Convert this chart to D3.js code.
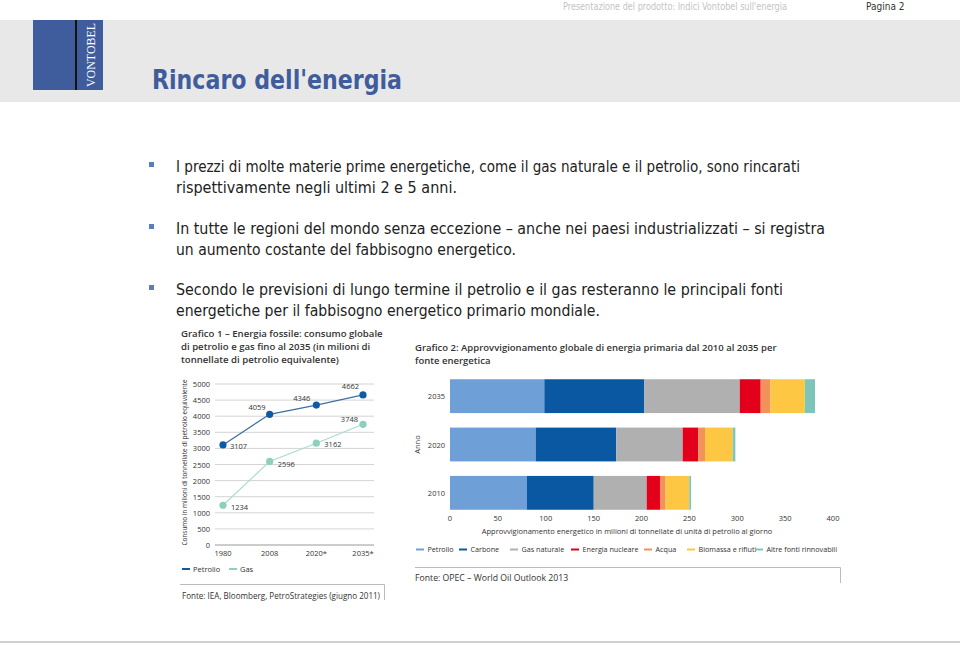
<!DOCTYPE html>
<html>
<head>
<meta charset="utf-8">
<script src="https://cdn.jsdelivr.net/npm/d3@7"></script>
<style>
  body { margin: 0; background: #fff; }
  svg { display: block; }
  .page { font-family: "DejaVu Sans Condensed", "DejaVu Sans", sans-serif; }
  .ch { font-family: "Open Sans", "Noto Sans", sans-serif; fill: #333; }
</style>
</head>
<body>
<svg width="960" height="646"></svg>
<script>
// --- data ---
const bullets = [
  ["I prezzi di molte materie prime energetiche, come il gas naturale e il petrolio, sono rincarati",
   "rispettivamente negli ultimi 2 e 5 anni."],
  ["In tutte le regioni del mondo senza eccezione \u2013 anche nei paesi industrializzati \u2013 si registra",
   "un aumento costante del fabbisogno energetico."],
  ["Secondo le previsioni di lungo termine il petrolio e il gas resteranno le principali fonti",
   "energetiche per il fabbisogno energetico primario mondiale."]
];

const years1 = ["1980", "2008", "2020*", "2035*"];
const petrolio = [3107, 4059, 4346, 4662];
const gas = [1234, 2596, 3162, 3748];
const yTicks1 = [0, 500, 1000, 1500, 2000, 2500, 3000, 3500, 4000, 4500, 5000];

const years2 = ["2035", "2020", "2010"];
const fonti = ["Petrolio", "Carbone", "Gas naturale", "Energia nucleare", "Acqua", "Biomassa e rifiuti", "Altre fonti rinnovabili"];
const supply2010 = [80.2, 69.9, 55.3, 13.9, 5.9, 24.7, 1.9];
const supply2020 = [89.5, 84.2, 69.3, 16.3, 7.0, 28.9, 2.8];
const supply2035 = [98.5, 104.5, 99.6, 21.9, 10.1, 36.0, 10.6];
const xTicks2 = [0, 50, 100, 150, 200, 250, 300, 350, 400];

const fontiColors = ["#6e9fd6", "#0a58a2", "#b0b0b0", "#e3001b", "#f3915a", "#fec743", "#7dc5b8"];

const svg = d3.select("svg");

// --- page header ---
svg.append("rect").attr("x", 0).attr("y", 20).attr("width", 960).attr("height", 82).attr("fill", "#e8e8e8");
svg.append("text").attr("class", "page").attr("x", 563).attr("y", 10)
  .attr("font-size", 10).attr("fill", "#c4c4c4")
  .attr("textLength", 224).attr("lengthAdjust", "spacingAndGlyphs")
  .text("Presentazione del prodotto: Indici Vontobel sull'energia");
svg.append("text").attr("class", "page").attr("x", 866).attr("y", 10)
  .attr("font-size", 10).attr("fill", "#333").text("Pagina 2");

// logo
svg.append("rect").attr("x", 33).attr("y", 20).attr("width", 70).attr("height", 70).attr("fill", "#3f5d9c");
svg.append("rect").attr("x", 75).attr("y", 20).attr("width", 2).attr("height", 70).attr("fill", "#111");
svg.append("text")
  .attr("transform", "translate(94.5,55) rotate(-90)")
  .attr("text-anchor", "middle")
  .attr("font-family", "Liberation Serif, DejaVu Serif, serif")
  .attr("font-size", 12.5).attr("fill", "#fff")
  .attr("textLength", 64).attr("lengthAdjust", "spacingAndGlyphs")
  .text("VONTOBEL");

svg.append("text").attr("class", "page").attr("x", 152).attr("y", 89)
  .attr("font-size", 26).attr("fill", "#3f5d9c").attr("font-weight", "bold")
  .attr("textLength", 250).attr("lengthAdjust", "spacingAndGlyphs")
  .text("Rincaro dell'energia");

// --- bullets ---
const bulletTop = [172, 234, 295];
const lineLen = [[624, 281], [649, 340], [607, 424]];
bullets.forEach((lines, i) => {
  svg.append("rect").attr("x", 149).attr("y", bulletTop[i] - 10).attr("width", 5).attr("height", 5).attr("fill", "#5b7db8");
  lines.forEach((t, j) => {
    svg.append("text").attr("class", "page")
      .attr("x", 176).attr("y", bulletTop[i] + j * 20.5)
      .attr("font-size", 15).attr("fill", "#222")
      .attr("textLength", lineLen[i][j]).attr("lengthAdjust", "spacingAndGlyphs")
      .text(t);
  });
});

// --- chart 1 ---
const t1 = ["Grafico 1 \u2013 Energia fossile: consumo globale",
            "di petrolio e gas fino al 2035 (in milioni di",
            "tonnellate di petrolio equivalente)"];
t1.forEach((t, i) => {
  svg.append("text").attr("class", "ch").attr("x", 181).attr("y", 337 + i * 13)
    .attr("font-size", 9.6).attr("font-weight", 600).attr("fill", "#222").text(t);
});

const x1 = d3.scalePoint().domain(years1).range([223, 363]);
const y1 = d3.scaleLinear().domain([0, 5000]).range([545, 384]);

const g1 = svg.append("g");
g1.selectAll("line.grid").data(yTicks1).enter().append("line")
  .attr("x1", 215).attr("x2", 374)
  .attr("y1", d => y1(d)).attr("y2", d => y1(d))
  .attr("stroke", d => d === 0 ? "#999" : "#d4d4d4").attr("stroke-width", 1);
g1.selectAll("text.yt").data(yTicks1).enter().append("text").attr("class", "ch")
  .attr("x", 210).attr("y", d => y1(d) + 3).attr("text-anchor", "end")
  .attr("font-size", 7.5).text(d => d);
g1.selectAll("text.xt").data(years1).enter().append("text").attr("class", "ch")
  .attr("x", d => x1(d)).attr("y", 556).attr("text-anchor", "middle")
  .attr("font-size", 7.5).text(d => d);
g1.append("text").attr("class", "ch")
  .attr("transform", `translate(187,${(380 + 545) / 2}) rotate(-90)`)
  .attr("text-anchor", "middle").attr("font-size", 7)
  .attr("textLength", 166).attr("lengthAdjust", "spacingAndGlyphs")
  .text("Consumo in milioni di tonnellate di petrolio equivalente");

const line1 = d3.line().x((d, i) => x1(years1[i])).y(d => y1(d));
const series1 = [
  {name: "Petrolio", values: petrolio, dot: "#0f5aa5", line: "#3f6f9f",
   lab: [[7, 4, "start"], [-4, -4, "end"], [-6, -4, "end"], [-4, -6, "end"]]},
  {name: "Gas", values: gas, dot: "#8fcfbd", line: "#a9dccc",
   lab: [[8, 5, "start"], [8, 6, "start"], [8, 4, "start"], [-5, -2, "end"]]}
];
series1.forEach(s => {
  g1.append("path").attr("d", line1(s.values)).attr("fill", "none")
    .attr("stroke", s.line).attr("stroke-width", 1.2);
  g1.selectAll(null).data(s.values).enter().append("circle")
    .attr("cx", (d, i) => x1(years1[i])).attr("cy", d => y1(d)).attr("r", 3.6)
    .attr("fill", s.dot);
  g1.selectAll(null).data(s.values).enter().append("text").attr("class", "ch")
    .attr("x", (d, i) => x1(years1[i]) + s.lab[i][0])
    .attr("y", (d, i) => y1(d) + s.lab[i][1])
    .attr("text-anchor", (d, i) => s.lab[i][2])
    .attr("font-size", 7.5).attr("fill", "#222").text(d => d);
});

// legend 1
series1.forEach((s, i) => {
  const lx = [182, 229][i];
  svg.append("line").attr("x1", lx).attr("x2", lx + 8).attr("y1", 569).attr("y2", 569)
    .attr("stroke", s.dot).attr("stroke-width", 2);
  svg.append("text").attr("class", "ch").attr("x", lx + 11).attr("y", 571.5)
    .attr("font-size", 7.5).text(s.name);
});
svg.append("path").attr("d", "M180,584.5H384.5V600").attr("fill", "none").attr("stroke", "#bbb");
svg.append("text").attr("class", "ch").attr("x", 182).attr("y", 599)
  .attr("font-size", 8.3).attr("textLength", 198).attr("lengthAdjust", "spacingAndGlyphs")
  .text("Fonte: IEA, Bloomberg, PetroStrategies (giugno 2011)");

// --- chart 2 ---
const t2 = ["Grafico 2: Approvvigionamento globale di energia primaria dal 2010 al 2035 per",
            "fonte energetica"];
t2.forEach((t, i) => {
  svg.append("text").attr("class", "ch").attr("x", 415).attr("y", 351 + i * 12.5)
    .attr("font-size", 9.5).attr("font-weight", 600).attr("fill", "#222").text(t);
});

const rows = [supply2035, supply2020, supply2010].map((v, i) => {
  const r = {anno: years2[i]};
  fonti.forEach((f, j) => r[f] = v[j]);
  return r;
});
const stack = d3.stack().keys(fonti)(rows);

const x2 = d3.scaleLinear().domain([0, 400]).range([450, 833]);
const y2 = d3.scaleBand().domain(years2).range([372, 517]).paddingInner(0.3).paddingOuter(0.15);
const color2 = d3.scaleOrdinal().domain(fonti).range(fontiColors);

const g2 = svg.append("g");
g2.selectAll("g.layer").data(stack).enter().append("g")
  .attr("fill", d => color2(d.key))
  .selectAll("rect").data(d => d).enter().append("rect")
  .attr("x", d => x2(d[0])).attr("width", d => x2(d[1]) - x2(d[0]))
  .attr("y", d => y2(d.data.anno)).attr("height", y2.bandwidth());

g2.selectAll("text.xt").data(xTicks2).enter().append("text").attr("class", "ch")
  .attr("x", d => x2(d)).attr("y", 521).attr("text-anchor", "middle")
  .attr("font-size", 7.5).text(d => d);
g2.selectAll("text.yt").data(years2).enter().append("text").attr("class", "ch")
  .attr("x", 445).attr("y", d => y2(d) + y2.bandwidth() / 2 + 3).attr("text-anchor", "end")
  .attr("font-size", 7.5).text(d => d);
g2.append("text").attr("class", "ch")
  .attr("transform", `translate(420,${y2("2020") + y2.bandwidth() / 2}) rotate(-90)`)
  .attr("text-anchor", "middle").attr("font-size", 7.5).text("Anno");
g2.append("text").attr("class", "ch").attr("x", 627).attr("y", 534)
  .attr("text-anchor", "middle").attr("font-size", 7.5)
  .text("Approvvigionamento energetico in milioni di tonnellate di unit\u00e0 di petrolio al giorno");

// legend 2
const legX = [416, 459, 510, 571, 644, 687, 755];
fonti.forEach((f, i) => {
  svg.append("line").attr("x1", legX[i]).attr("x2", legX[i] + 8).attr("y1", 549.5).attr("y2", 549.5)
    .attr("stroke", color2(f)).attr("stroke-width", 2);
  svg.append("text").attr("class", "ch").attr("x", legX[i] + 11.5).attr("y", 552)
    .attr("font-size", 7.2).text(f);
});
svg.append("path").attr("d", "M415,567.5H840.5V583").attr("fill", "none").attr("stroke", "#bbb");
svg.append("text").attr("class", "ch").attr("x", 415).attr("y", 581)
  .attr("font-size", 8.7).text("Fonte: OPEC \u2013 World Oil Outlook 2013");

// bottom rule
svg.append("rect").attr("x", 0).attr("y", 641).attr("width", 960).attr("height", 2).attr("fill", "#d0d0d0");
</script>
</body>
</html>
